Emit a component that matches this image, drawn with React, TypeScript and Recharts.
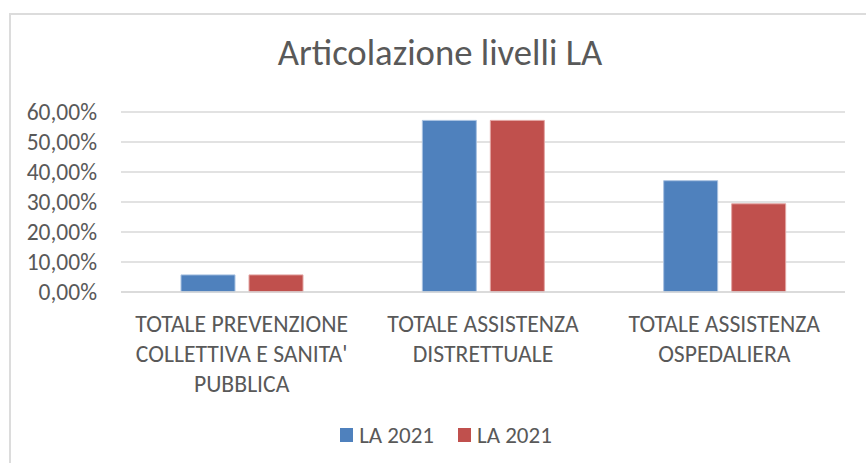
import { BarChart, Bar, XAxis, YAxis, CartesianGrid, Legend } from 'recharts';

const categories = [
  "TOTALE PREVENZIONE\nCOLLETTIVA E SANITA'\nPUBBLICA",
  'TOTALE ASSISTENZA\nDISTRETTUALE',
  'TOTALE ASSISTENZA\nOSPEDALIERA',
];
const seriesNames = ['LA 2021', 'LA 2021'];
const serieA = [0.057, 0.572, 0.371];
const serieB = [0.057, 0.572, 0.294];
const yTicks = [0, 0.1, 0.2, 0.3, 0.4, 0.5, 0.6];

const data = categories.map((name, i) => ({ name, a: serieA[i], b: serieB[i] }));

const FONT = 'Carlito, Lato, sans-serif';
const TEXT = '#595959';
const COLORS = ['#4F81BD', '#C0504D'];
const STROKES = ['#a9c2e1', '#e2a5a3'];

const pct = (v: number) => (v * 100).toFixed(2).replace('.', ',') + '%';

function CategoryTick({ x, y, payload }: any) {
  const lines = String(payload.value).split('\n');
  return (
    <text x={x} y={y} textAnchor="middle" fill={TEXT} fontSize={23.7} fontFamily={FONT}>
      {lines.map((line, i) => (
        <tspan key={i} x={x} dy={i === 0 ? 40 : 30}>
          {line}
        </tspan>
      ))}
    </text>
  );
}

function LegendContent() {
  return (
    <div style={{ display: 'flex', justifyContent: 'center', alignItems: 'center', fontFamily: FONT, fontSize: 23, color: TEXT }}>
      {seriesNames.map((n, i) => (
        <div key={i} style={{ display: 'flex', alignItems: 'center', marginLeft: i === 0 ? 0 : 24 }}>
          <span style={{ display: 'inline-block', width: 13, height: 14, background: COLORS[i], marginRight: 6 }} />
          <span>{n}</span>
        </div>
      ))}
    </div>
  );
}

export default function App() {
  return (
    <div style={{ position: 'fixed', left: 0, top: 0, width: 866, height: 463, background: '#fff', overflow: 'hidden' }}>
      <div style={{ position: 'absolute', left: 9, top: 13, width: 870, height: 470, border: '2px solid #dcdcdc', boxSizing: 'border-box' }} />
      <div style={{ position: 'absolute', left: 0, top: 35, width: 880, textAlign: 'center', fontFamily: FONT, fontSize: 36.7, color: TEXT, lineHeight: '35px' }}>
        Articolazione livelli LA
      </div>
      <div style={{ position: 'absolute', left: 0, top: 0 }}>
        <BarChart width={866} height={463} data={data} margin={{ top: 112, right: 21, bottom: 71, left: 0 }} barSize={54} barGap={14}>
          <CartesianGrid vertical={false} stroke="#d9d9d9" strokeWidth={1.5} />
          <XAxis dataKey="name" interval={0} height={100} tickSize={0} tickMargin={0} tickLine={false} axisLine={{ stroke: '#d9d9d9', strokeWidth: 1.5 }} tick={<CategoryTick />} />
          <YAxis
            width={121}
            domain={[0, 0.6]}
            ticks={yTicks}
            interval={0}
            tickFormatter={pct}
            tickSize={0}
            tickMargin={24}
            tickLine={false}
            axisLine={false}
            tick={{ fill: TEXT, fontSize: 23.5, fontFamily: FONT }}
          />
          <Legend verticalAlign="middle" align="center" layout="horizontal" content={<LegendContent />} wrapperStyle={{ top: 421, left: 0, width: 892 }} />
          <Bar dataKey="a" name={seriesNames[0]} fill={COLORS[0]} stroke={STROKES[0]} strokeWidth={1} isAnimationActive={false} />
          <Bar dataKey="b" name={seriesNames[1]} fill={COLORS[1]} stroke={STROKES[1]} strokeWidth={1} isAnimationActive={false} />
        </BarChart>
      </div>
    </div>
  );
}
